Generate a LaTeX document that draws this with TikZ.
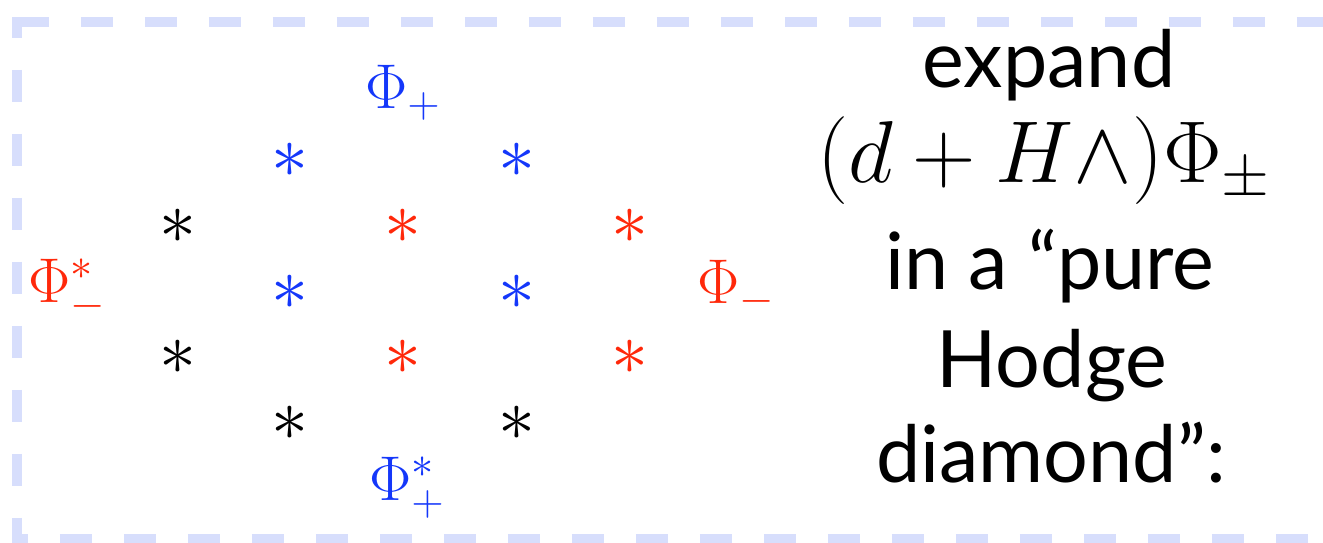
\RequirePackage{fix-cm}
\documentclass[tikz,border=0pt]{standalone}
\usepackage{amsmath}
\usepackage{fontspec}
\newfontfamily\gillfont{Lato}
\definecolor{phiblue}{RGB}{20,55,250}
\definecolor{phired}{RGB}{255,40,10}
\definecolor{boxlav}{RGB}{215,222,252}

\begin{document}
\begin{tikzpicture}[x=0.02cm, y=-0.02cm,
  entry/.style={inner sep=0pt, font=\fontsize{42}{46}\selectfont},
  lbl/.style={inner sep=0pt, anchor=base west, font=\fontsize{36}{40}\selectfont},
  txt/.style={inner sep=0pt, anchor=base, font=\gillfont\fontsize{45}{50}\selectfont},
  frame/.style={draw=boxlav, line width=0.2cm, dash pattern=on 0.64cm off 0.64cm}]
\useasboundingbox (0,0) rectangle (1323,542);
% dashed frame:
\draw[frame, dash phase=0.22cm] (17,17) -- (17,560);
\draw[frame] (17,22) -- (1360,22);
\draw[frame, dash phase=0.32cm] (12,539) -- (1360,539);
% top and bottom forms:
\node[lbl, phiblue] (phiP) at (365,108) {$\Phi_+$};
\node[lbl, phiblue] (phiPs) at (369,500) {$\Phi_+^*$};
% left and right forms:
\node[lbl, phired] (phiMs) at (28,302) {$\Phi_-^*$};
\node[lbl, phired] (phiM) at (697,303) {$\Phi_-$};
% the diamond:
\node[entry, phiblue] (s12) at (290,160) {$\ast$};
\node[entry, phiblue] (s14) at (517,160) {$\ast$};
\node[entry] (s21) at (178,226) {$\ast$};
\node[entry, phired] (s23) at (403,226) {$\ast$};
\node[entry, phired] (s25) at (630,226) {$\ast$};
\node[entry, phiblue] (s32) at (290,292) {$\ast$};
\node[entry, phiblue] (s34) at (517,292) {$\ast$};
\node[entry] (s41) at (178,357) {$\ast$};
\node[entry, phired] (s43) at (403,357) {$\ast$};
\node[entry, phired] (s45) at (630,357) {$\ast$};
\node[entry] (s52) at (290,423) {$\ast$};
\node[entry] (s54) at (517,423) {$\ast$};
% text on the right:
\node[txt] (t1) at (1049,87) {expand};
\node[txt, font=\fontsize{50}{54}\selectfont] (t2) at (1044,182) {$(d+H\wedge)\Phi_\pm$};
\node[txt] (t3) at (1050,289) {in a “pure};
\node[txt] (t4) at (1052,387) {Hodge};
\node[txt] (t5) at (1051,482) {diamond”:};
\end{tikzpicture}
\end{document}
